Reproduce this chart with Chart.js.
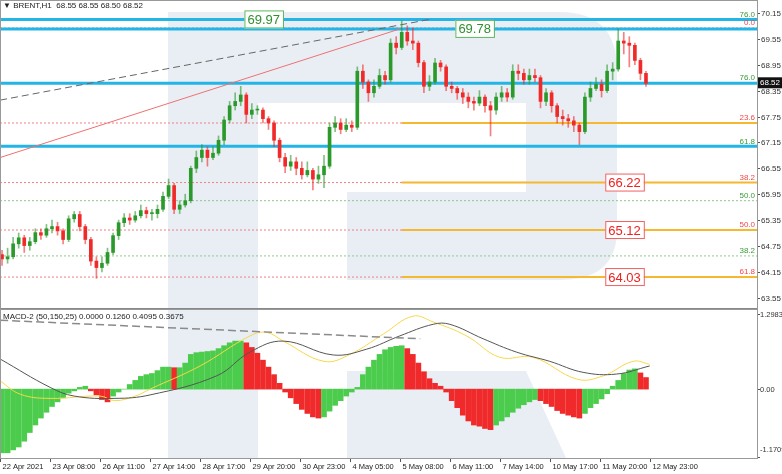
<!DOCTYPE html>
<html>
<head>
<meta charset="utf-8">
<script src="https://cdn.jsdelivr.net/npm/chart.js@4.4.0/dist/chart.umd.min.js"></script>
<style>
  body { margin: 0; background: #fff; width: 782px; height: 474px; overflow: hidden; position: relative; font-family: "Liberation Sans", Arial, sans-serif; }
  #wm { position: absolute; left: 0; top: 0; }
  #priceBox { position: absolute; left: 0; top: 0; width: 782px; height: 309px; }
  #macdBox { position: absolute; left: 0; top: 309px; width: 782px; height: 165px; }
  .frame { position: absolute; border: 1px solid #999; box-sizing: border-box; pointer-events: none; }
</style>
</head>
<body>
<svg id="wm" width="782" height="474">
  <g fill="#e9eef5">
    <rect x="168" y="12" width="90" height="446"/>
    <path d="M258 12 H560 Q617 12 617 70 V230 Q617 280 560 280 H347 V192 H526 V103 H258 Z"/>
    <path d="M347 371 H526 L566 458 H347 Z"/>
  </g>
</svg>
<div id="priceBox"><canvas id="priceChart"></canvas></div>
<div id="macdBox"><canvas id="macdChart"></canvas></div>
<div class="frame" style="left:0;top:0;width:758px;height:310px;border-bottom:2px solid #888"></div>
<div class="frame" style="left:0;top:309px;width:758px;height:150px"></div>
<script>
// candles every 3 hours, hour 0 = 22 Apr 05:00
const candleHours = Array.from({length: 117}, (_, i) => i * 3);
const closes = [64.45,64.5,64.8,64.94,64.76,64.85,65.06,65.0,65.15,65.2,65.1,64.9,65.38,65.48,65.2,64.9,64.4,64.25,64.35,64.6,
  64.99,65.29,65.4,65.35,65.45,65.57,65.5,65.5,65.6,65.9,66.15,65.6,65.7,65.8,66.55,66.8,66.97,66.8,66.9,67.2,
  67.67,68.0,68.1,68.25,67.8,67.9,67.9,67.7,67.6,67.2,66.8,66.6,66.7,66.55,66.4,66.5,66.3,66.4,66.6,67.5,
  67.6,67.45,67.55,67.5,68.8,68.55,68.3,68.45,68.7,68.6,69.45,69.35,69.7,69.5,69.45,69.0,68.45,68.55,68.99,68.9,
  68.45,68.4,68.3,68.2,68.1,68.06,68.2,68.0,67.9,68.2,68.3,68.2,68.8,68.75,68.6,68.7,68.65,68.1,68.3,68.0,
  67.75,67.7,67.65,67.55,67.4,68.2,68.4,68.5,68.35,68.8,68.85,69.5,69.45,69.4,69.05,68.75,68.52];
const highs = [64.65,64.7,64.95,65.05,65.0,64.95,65.15,65.15,65.25,65.35,65.3,65.15,65.45,65.55,65.55,65.25,64.95,64.5,64.5,64.7,
  65.05,65.35,65.5,65.5,65.55,65.7,65.65,65.6,65.7,66.0,66.3,66.2,65.8,65.95,66.6,66.95,67.1,67.05,67.05,67.3,
  67.75,68.1,68.3,68.45,68.3,68.05,68.0,67.95,67.75,67.65,67.25,66.9,66.85,66.8,66.7,66.7,66.55,66.6,66.85,67.6,
  67.75,67.7,67.7,67.65,68.9,68.95,68.6,68.6,68.85,68.8,69.55,69.6,69.97,69.85,69.8,69.5,69.05,68.7,69.1,69.05,
  68.95,68.55,68.45,68.4,68.3,68.2,68.35,68.25,68.1,68.3,68.45,68.4,68.95,68.95,68.85,68.85,68.85,68.7,68.4,68.35,
  68.05,67.9,67.8,67.75,67.6,68.3,68.55,68.65,68.6,68.95,69.0,69.78,69.7,69.6,69.45,69.1,68.8];
const lows = [64.3,64.35,64.45,64.7,64.6,64.65,64.8,64.9,64.95,65.05,65.0,64.8,64.85,65.3,65.1,64.8,64.3,64.0,64.15,64.3,
  64.55,64.9,65.2,65.25,65.3,65.4,65.4,65.35,65.4,65.55,65.85,65.5,65.5,65.65,65.75,66.45,66.7,66.6,66.75,66.85,
  67.1,67.6,67.9,68.0,67.6,67.7,67.8,67.6,67.45,67.05,66.7,66.45,66.5,66.4,66.3,66.35,66.05,66.2,66.1,66.55,
  67.4,67.35,67.4,67.4,67.45,68.4,68.1,68.2,68.4,68.5,68.55,69.2,69.3,69.4,69.3,68.9,68.3,68.35,68.5,68.8,
  68.35,68.3,68.15,68.05,67.95,67.9,68.0,67.85,67.3,67.8,68.1,68.1,68.15,68.6,68.5,68.5,68.55,67.95,68.0,67.85,
  67.6,67.55,67.5,67.4,67.1,67.35,68.1,68.35,68.2,68.3,68.6,68.8,69.2,68.9,68.95,68.6,68.45];
const histValues = [-1.1,-1.1,-1.05,-1.0,-0.9,-0.75,-0.62,-0.5,-0.4,-0.3,-0.22,-0.15,-0.07,-0.03,0.03,0.05,-0.03,-0.1,-0.18,-0.22,
  -0.12,-0.05,0.0,0.08,0.15,0.22,0.25,0.27,0.32,0.38,0.38,0.37,0.37,0.45,0.6,0.63,0.64,0.65,0.66,0.7,
  0.75,0.8,0.83,0.83,0.8,0.72,0.62,0.5,0.38,0.25,0.1,-0.05,-0.15,-0.25,-0.35,-0.42,-0.48,-0.5,-0.48,-0.38,
  -0.28,-0.2,-0.12,-0.05,0.03,0.25,0.38,0.5,0.6,0.68,0.72,0.74,0.75,0.7,0.6,0.45,0.3,0.18,0.1,0.05,
  -0.05,-0.2,-0.32,-0.45,-0.55,-0.62,-0.64,-0.68,-0.7,-0.62,-0.55,-0.48,-0.4,-0.33,-0.27,-0.22,-0.18,-0.2,-0.25,-0.3,
  -0.37,-0.42,-0.45,-0.48,-0.5,-0.42,-0.32,-0.25,-0.17,-0.08,0.05,0.15,0.27,0.33,0.35,0.28,0.2];
const blackHours = [-1,26,39,61,80,116,134,152,179,197,215,233,242,260,278,296,314,332,350];
const blackValues = [0.52,0.03,-0.12,-0.16,-0.1,0.23,0.64,0.83,0.59,0.69,0.92,1.12,1.12,0.87,0.64,0.48,0.29,0.26,0.4];
const yellowHours = [-1,10,26,53,61,72,80,107,134,143,152,174,188,206,222,233,251,269,287,311,325,341,350];
const yellowValues = [0.14,-0.09,-0.16,-0.12,-0.2,-0.12,0.0,0.4,0.92,0.98,0.83,0.48,0.6,0.95,1.26,1.16,0.92,0.55,0.55,0.17,0.23,0.48,0.43];
const timeLabels = ['22 Apr 2021','23 Apr 08:00','26 Apr 11:00','27 Apr 14:00','28 Apr 17:00','29 Apr 20:00','30 Apr 23:00',
  '4 May 05:00','5 May 08:00','6 May 11:00','7 May 14:00','10 May 17:00','11 May 20:00','12 May 23:00'];
const timeHours = [-1,26,53,80,107,134,161,188,215,242,269,296,323,350];
const priceTicks = [70.15,69.55,68.95,68.35,67.75,67.15,66.55,65.95,65.35,64.75,64.15,63.55];
const macdTicks = [1.2983,0,-1.1709];
const blueLevels = [70.0,69.78,68.52,67.06];
const redDotted = [69.8,67.6,66.22,65.12,64.03];
const greenDotted = [65.8,64.52];
const orangeLevels = [67.6,66.22,65.12,64.03];
const fibTexts = [[70.0,'76.0','g'],[69.8,'0.0','r'],[68.52,'76.0','g'],[67.6,'23.6','r'],[67.06,'61.8','g'],
  [66.22,'38.2','r'],[65.8,'50.0','g'],[65.12,'50.0','r'],[64.52,'38.2','g'],[64.03,'61.8','r']];
const priceBoxes = [[131,70.0,'69.97','g'],[245,69.78,'69.78','g'],[326,66.22,'66.22','r'],[326,65.12,'65.12','r'],[326,64.03,'64.03','r']];

const X_MIN = -1.1, X_MAX = 408;
const GREEN = '#2b9a2b', RED = '#f02a2a';

function fixWidth(s) { s.width = 25; }

const priceOverlay = {
  id: 'priceOverlay',
  beforeDatasetsDraw(chart) {
    const c = chart.ctx, x = chart.scales.x, y = chart.scales.y, a = chart.chartArea;
    c.save();
    c.lineWidth = 1;
    c.setLineDash([2, 2]);
    c.strokeStyle = '#f08080';
    redDotted.forEach(p => { c.beginPath(); c.moveTo(a.left, y.getPixelForValue(p)); c.lineTo(a.right, y.getPixelForValue(p)); c.stroke(); });
    c.strokeStyle = '#8fc88f';
    greenDotted.forEach(p => { c.beginPath(); c.moveTo(a.left, y.getPixelForValue(p)); c.lineTo(a.right, y.getPixelForValue(p)); c.stroke(); });
    c.setLineDash([]);
    c.strokeStyle = '#f5b82e'; c.lineWidth = 2;
    orangeLevels.forEach(p => { c.beginPath(); c.moveTo(x.getPixelForValue(216), y.getPixelForValue(p)); c.lineTo(a.right, y.getPixelForValue(p)); c.stroke(); });
    c.strokeStyle = '#22b5e6'; c.lineWidth = 3;
    blueLevels.forEach(p => { c.beginPath(); c.moveTo(a.left, y.getPixelForValue(p)); c.lineTo(a.right, y.getPixelForValue(p)); c.stroke(); });
    // trend lines
    c.lineWidth = 1;
    c.strokeStyle = '#f07070';
    c.beginPath(); c.moveTo(x.getPixelForValue(-1), y.getPixelForValue(66.8)); c.lineTo(x.getPixelForValue(215), y.getPixelForValue(69.78)); c.stroke();
    c.strokeStyle = '#666'; c.setLineDash([7, 4]);
    c.beginPath(); c.moveTo(x.getPixelForValue(-1), y.getPixelForValue(68.13)); c.lineTo(x.getPixelForValue(231), y.getPixelForValue(70.0)); c.stroke();
    c.restore();
  },
  afterDraw(chart) {
    const c = chart.ctx, x = chart.scales.x, y = chart.scales.y, a = chart.chartArea;
    c.save();
    c.font = '8px "Liberation Sans"';
    c.textAlign = 'right'; c.textBaseline = 'bottom';
    fibTexts.forEach(f => { c.fillStyle = f[2] === 'g' ? '#3a9a3a' : '#f04848'; c.fillText(f[1], a.right - 2, y.getPixelForValue(f[0]) - 1); });
    c.font = '13px "Liberation Sans"'; c.textAlign = 'left'; c.textBaseline = 'middle';
    priceBoxes.forEach(b => {
      const px = x.getPixelForValue(b[0]), py = y.getPixelForValue(b[1]);
      const w = c.measureText(b[2]).width + 6;
      c.fillStyle = '#fff'; c.fillRect(px, py - 9, w, 18);
      c.strokeStyle = b[3] === 'g' ? '#5cb85c' : '#f06060'; c.lineWidth = 1;
      c.strokeRect(px + 0.5, py - 8.5, w, 17);
      c.fillStyle = b[3] === 'g' ? '#2f8f2f' : '#f02020';
      c.fillText(b[2], px + 3, py + 1);
    });
    // right axis
    c.font = '8px "Liberation Sans"'; c.fillStyle = '#333'; c.strokeStyle = '#555'; c.lineWidth = 1;
    priceTicks.forEach(t => {
      const py = Math.round(y.getPixelForValue(t)) + 0.5;
      c.beginPath(); c.moveTo(a.right, py); c.lineTo(a.right + 3, py); c.stroke();
      c.fillText(t.toFixed(2), a.right + 4, py);
    });
    const cp = y.getPixelForValue(closes[closes.length - 1]);
    c.fillStyle = '#111'; c.fillRect(a.right + 1, cp - 6, 24, 11);
    c.fillStyle = '#fff'; c.fillText('68.52', a.right + 3, cp);
    c.fillStyle = '#222'; c.font = '8px "Liberation Sans"';
    c.fillText('\u25BC BRENT,H1  68.55 68.55 68.50 68.52', 3, 6);
    c.restore();
  }
};

const macdOverlay = {
  id: 'macdOverlay',
  afterDraw(chart) {
    const c = chart.ctx, x = chart.scales.x, y = chart.scales.y, a = chart.chartArea;
    c.save();
    c.font = '7.5px "Liberation Sans"'; c.fillStyle = '#333'; c.strokeStyle = '#555';
    c.textBaseline = 'middle'; c.textAlign = 'left';
    macdTicks.forEach(t => {
      const py = Math.round(y.getPixelForValue(t)) + 0.5;
      c.beginPath(); c.moveTo(a.right, py); c.lineTo(a.right + 3, py); c.stroke();
      c.fillText(t === 0 ? '0.00' : t.toFixed(4), a.right + 3, Math.min(Math.max(py, a.top + 5), a.bottom - 8));
    });
    c.fillStyle = '#222'; c.font = '8px "Liberation Sans"';
    c.fillText('MACD-2 (50,150,25) 0.0000 0.1260 0.4095 0.3675', 3, a.top + 7);
    c.textBaseline = 'top'; c.font = '7.5px "Liberation Sans"';
    timeLabels.forEach((t, i) => {
      const px = Math.round(Math.max(x.getPixelForValue(timeHours[i]), 0)) + 0.5;
      c.beginPath(); c.moveTo(px, a.bottom); c.lineTo(px, a.bottom + 4); c.stroke();
      c.fillText(t, px + 2, a.bottom + 5);
    });
    c.restore();
  }
};

new Chart(document.getElementById('priceChart'), {
  type: 'bar',
  data: {
    datasets: [{
      data: candleHours.map((h, i) => ({ x: h, y: [lows[i], highs[i]] })),
      backgroundColor: candleHours.map((h, i) => closes[i] >= (i ? closes[i - 1] : 64.55) ? 'rgba(43,154,43,0.6)' : 'rgba(240,42,42,0.6)'),
      barThickness: 1, grouped: false
    }, {
      data: candleHours.map((h, i) => ({ x: h, y: [i ? closes[i - 1] : 64.55, closes[i]] })),
      backgroundColor: candleHours.map((h, i) => closes[i] >= (i ? closes[i - 1] : 64.55) ? GREEN : RED),
      barThickness: 3, minBarLength: 1, grouped: false
    }]
  },
  options: {
    responsive: true, maintainAspectRatio: false, animation: false,
    layout: { padding: { top: 0, bottom: 0, left: 0, right: 0 } },
    plugins: { legend: { display: false }, tooltip: { enabled: false } },
    scales: {
      x: { type: 'linear', min: X_MIN, max: X_MAX, offset: false, display: false },
      y: { position: 'right', min: 63.29, max: 70.45, grid: { display: false }, ticks: { display: false }, border: { display: false }, afterFit: fixWidth }
    }
  },
  plugins: [priceOverlay]
});

new Chart(document.getElementById('macdChart'), {
  type: 'bar',
  data: {
    datasets: [{
      type: 'line', data: [{ x: -1, y: 1.19 }, { x: 226, y: 0.87 }],
      borderColor: '#8a8a8a', borderWidth: 1.5, borderDash: [8, 4], pointRadius: 0, order: 0
    }, {
      type: 'line', data: blackHours.map((h, i) => ({ x: h, y: blackValues[i] })),
      borderColor: '#555', borderWidth: 1, pointRadius: 0, tension: 0.4, order: 1
    }, {
      type: 'line', data: yellowHours.map((h, i) => ({ x: h, y: yellowValues[i] })),
      borderColor: '#f7d84a', borderWidth: 1, pointRadius: 0, tension: 0.4, order: 2
    }, {
      data: candleHours.map((h, i) => ({ x: h, y: histValues[i] })),
      backgroundColor: histValues.map((v, i) => (i && v < histValues[i - 1]) ? '#f02a2a' : '#4ccc4c'),
      barThickness: 5, order: 3
    }]
  },
  options: {
    responsive: true, maintainAspectRatio: false, animation: false,
    layout: { padding: { top: 1, bottom: 16 } },
    plugins: { legend: { display: false }, tooltip: { enabled: false } },
    scales: {
      x: { type: 'linear', min: X_MIN, max: X_MAX, offset: false, display: false },
      y: { position: 'right', min: -1.19, max: 1.367, grid: { display: false }, ticks: { display: false }, border: { display: false }, afterFit: fixWidth }
    }
  },
  plugins: [macdOverlay]
});
</script>
</body>
</html>
